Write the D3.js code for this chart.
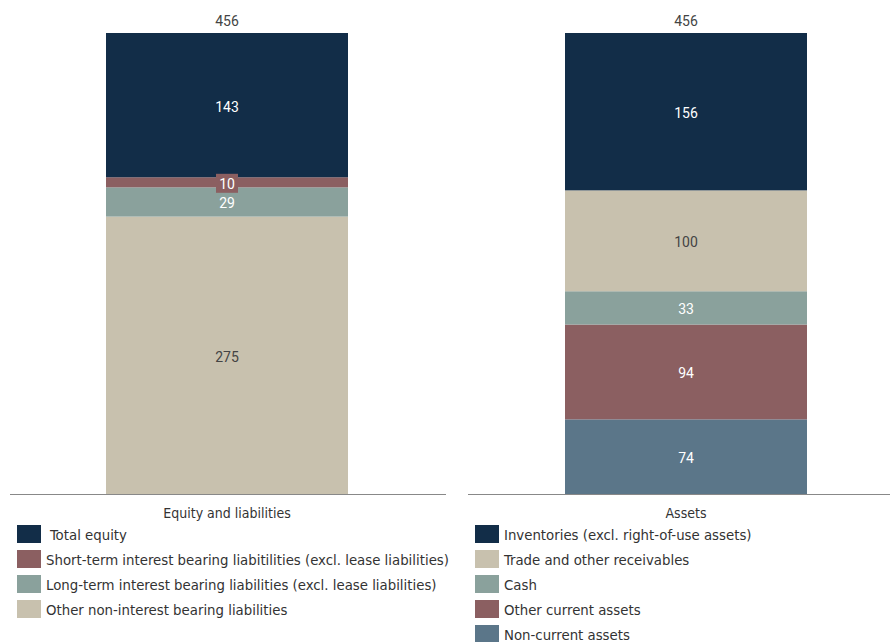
<!DOCTYPE html>
<html>
<head>
<meta charset="utf-8">
<title>Balance sheet</title>
<style>
  body { margin: 0; background: #fff; }
  text { font-family: Roboto, "Noto Sans", sans-serif; }
</style>
</head>
<body>
<svg id="chart" width="890" height="642"></svg>
<script src="https://cdn.jsdelivr.net/npm/d3@7"></script>
<script>
// data
const panels = ["Equity and liabilities", "Assets"];
const totals = [456, 456];
// bottom to top
const liabCats = ["Other non-interest bearing liabilities", "Long-term interest bearing liabilities (excl. lease liabilities)", "Short-term interest bearing liabitilities (excl. lease liabilities)", "Total equity"];
const liabValues = [275, 29, 10, 143];
const liabColors = ["#c8c1ae", "#8aa19c", "#8b5f61", "#122d48"];
const assetCats = ["Non-current assets", "Other current assets", "Cash", "Trade and other receivables", "Inventories (excl. right-of-use assets)"];
const assetValues = [74, 94, 33, 100, 156];
const assetColors = ["#5b7689", "#8b5f61", "#8aa19c", "#c8c1ae", "#122d48"];

const svg = d3.select("#chart");
const y = d3.scaleLinear().domain([0, 457]).range([494, 33]);
const narrow = "'DejaVu Sans Condensed', 'Liberation Sans Narrow', sans-serif";

const layout = [
  { x0: 10, x1: 446, bx: 106, bw: 242, cats: liabCats, vals: liabValues, cols: liabColors, lx: 17 },
  { x0: 468, x1: 890, bx: 565, bw: 242, cats: assetCats, vals: assetValues, cols: assetColors, lx: 475 }
];

layout.forEach(function(p, i) {
  const g = svg.append("g");
  let acc = 0;
  const segs = p.vals.map(function(v, j) {
    const s = { v: v, y0: acc, y1: acc + v, c: p.cols[j] };
    acc += v;
    return s;
  });

  g.selectAll("rect.seg").data(segs).enter().append("rect")
    .attr("class", "seg")
    .attr("x", p.bx).attr("width", p.bw)
    .attr("y", function(d) { return y(d.y1); })
    .attr("height", function(d) { return y(d.y0) - y(d.y1); })
    .attr("fill", function(d) { return d.c; });

  segs.forEach(function(d) {
    const cx = p.bx + p.bw / 2, cy = (y(d.y0) + y(d.y1)) / 2 + 1.5;
    const dark = d.c !== "#c8c1ae";
    if (d.v < 15) {
      g.append("rect").attr("x", cx - 11).attr("y", cy - 10).attr("width", 22).attr("height", 19)
        .attr("fill", d.c);
    }
    g.append("text").attr("x", cx).attr("y", cy).attr("dy", "0.35em")
      .attr("text-anchor", "middle").attr("font-size", 14)
      .attr("fill", dark ? "#ffffff" : "#444")
      .text(d.v);
  });

  // total on top
  g.append("text").attr("x", p.bx + p.bw / 2).attr("y", 26)
    .attr("text-anchor", "middle").attr("font-size", 14).attr("fill", "#444")
    .text(totals[i]);

  // baseline
  g.append("line").attr("x1", p.x0).attr("x2", p.x1).attr("y1", 494.5).attr("y2", 494.5)
    .attr("stroke", "#888").attr("stroke-width", 1);

  g.append("text").attr("x", p.bx + p.bw / 2).attr("y", 518)
    .attr("text-anchor", "middle").attr("font-size", 14).attr("fill", "#333")
    .style("font-family", narrow)
    .text(panels[i]);

  // legend (top to bottom)
  const leg = p.cats.map(function(c, j) { return { c: c, col: p.cols[j] }; }).reverse();
  const lg = g.selectAll("g.leg").data(leg).enter().append("g")
    .attr("transform", function(d, j) { return "translate(" + p.lx + "," + (525 + j * 25) + ")"; });
  lg.append("rect").attr("width", 24).attr("height", 18).attr("fill", function(d) { return d.col; });
  lg.append("text")
    .attr("x", function(d, j) { return (i === 0 && j === 0) ? 33 : 29; })
    .attr("y", 10).attr("dy", "0.35em").attr("font-size", 14.8).attr("fill", "#333")
    .style("font-family", narrow)
    .text(function(d) { return d.c; });
});
</script>
</body>
</html>
